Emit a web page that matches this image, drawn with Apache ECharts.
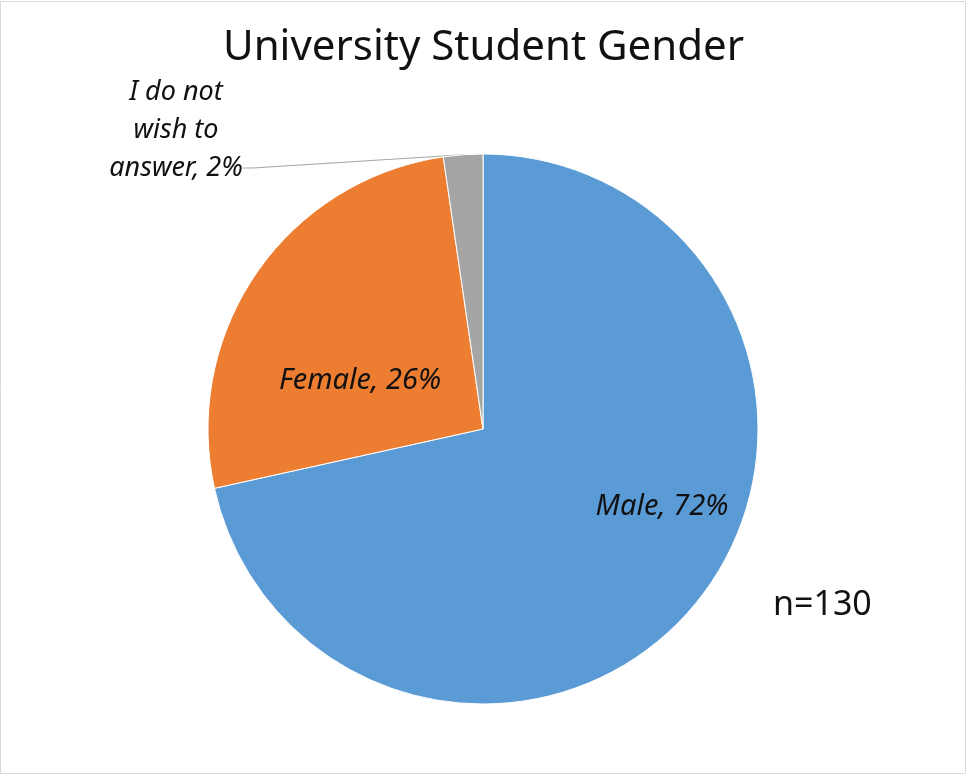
<!DOCTYPE html>
<html>
<head>
<meta charset="utf-8">
<script src="https://cdn.jsdelivr.net/npm/echarts@6/dist/echarts.min.js"></script>
<style>
html,body{margin:0;padding:0;background:#fff;}
#chart{width:967px;height:775px;}
</style>
</head>
<body>
<div id="chart"></div>
<script>
// Data (n=130)
const categories = ['Male', 'Female', 'I do not wish to answer'];
const counts = [93, 34, 3];
const labelTexts = ['Male, 72%', 'Female, 26%', 'I do not\nwish to\nanswer, 2%\n \n '];
const sliceColors = ['#5B9BD5', '#ED7D31', '#A5A5A5'];
const titleText = 'University Student Gender';
const noteText = 'n=130';

// label anchor positions (layout only)
const labelPos = [
  {x: 662, y: 507, align: 'center', verticalAlign: 'middle'},
  {x: 176, y: 381, align: 'center', verticalAlign: 'middle'},
  {x: 176, y: 168, align: 'center', verticalAlign: 'middle'}
];
labelPos[1].x = 360;

const chart = echarts.init(document.getElementById('chart'));
const fontFam = '"Noto Sans", "Open Sans", sans-serif';

chart.setOption({
  backgroundColor: '#fff',
  animation: false,
  title: {
    text: titleText,
    left: 'center',
    top: 22,
    textStyle: {fontFamily: fontFam, fontSize: 42, fontWeight: 'normal', color: '#111'}
  },
  graphic: [
    {type: 'rect', shape: {x: 0.5, y: 1.5, width: 965, height: 772}, style: {fill: 'none', stroke: '#d9d9d9', lineWidth: 1}, silent: true},
    {type: 'text', left: 773, top: 588, style: {text: noteText, fontFamily: fontFam, fontSize: 34, fill: '#111'}}
  ],
  series: [{
    type: 'pie',
    center: [483, 429],
    radius: [0, 275],
    startAngle: 90,
    clockwise: true,
    avoidLabelOverlap: false,
    itemStyle: {borderColor: '#fff', borderWidth: 1},
    label: {
      show: true,
      position: 'inside',
      fontFamily: fontFam,
      fontStyle: 'italic',
      fontSize: 29,
      lineHeight: 38,
      color: '#111'
    },
    labelLine: {show: false},
    labelLayout: function (params) {
      return labelPos[params.dataIndex];
    },
    data: categories.map((c, i) => {
      const d = {
        name: c,
        value: counts[i],
        itemStyle: {color: sliceColors[i]},
        label: {formatter: labelTexts[i]}
      };
      if (i === 2) {
        d.label.position = 'outside';
        d.label.fontSize = 27;
        d.labelLine = {show: true, length: 10, length2: 10, lineStyle: {color: '#a6a6a6', width: 1}};
      }
      return d;
    })
  }]
});
</script>
</body>
</html>
